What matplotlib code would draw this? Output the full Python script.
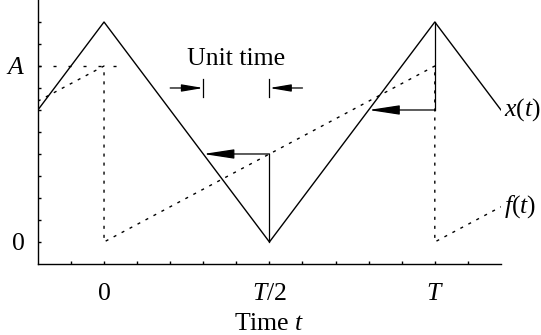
import matplotlib
matplotlib.use("Agg")
import matplotlib.pyplot as plt

plt.rcParams['font.family'] = ['Liberation Serif', 'DejaVu Serif']
plt.rcParams['mathtext.fontset'] = 'custom'
plt.rcParams['mathtext.rm'] = 'Liberation Serif'
plt.rcParams['mathtext.it'] = 'Liberation Serif:italic'
plt.rcParams['font.size'] = 18.5

# x(t): triangle wave
t_x = [-2, 0, 5, 10, 12]
x_vals = [6, 10, 0, 10, 6]
# f(t): sawtooth
t_f = [-2, 0, 0, 10, 10, 12]
f_vals = [6.4, 8, 0, 8, 0, 1.6]
# dotted level A
A = 8
t_A = [-2, 0.4]

# arrows: (start t, start y, end t, end y)
arrow1 = (5, 4, 3, 4)
arrow2 = (10, 6, 8, 6)
# vertical connectors (t, y0, y1)
vert1 = (5, 0, 4)
vert2 = (10, 6, 10)

# unit time marker
unit_t = [3, 5]
unit_y = 7

xticks = [0, 5, 10]
xticklabels = ['0', '$T$/2', '$T$']
yticks = [0, A]
yticklabels = ['0', '$A$']

fig = plt.figure(figsize=(5.41, 3.35), dpi=100)
ax = fig.add_axes([0.070, 0.212, 0.856, 0.788])

ax.plot(t_x, x_vals, color='black', lw=1.0)
ax.plot(t_f, f_vals, color='black', lw=1.0, linestyle=(0, (2.2, 4.3)))
ax.plot(t_A, [A, A], color='black', lw=1.0, linestyle=(0, (2.2, 8.6)))

for t, y0, y1 in [vert1, vert2]:
    ax.plot([t, t], [y0, y1], color='black', lw=0.9)

for (t0, y0, t1, y1) in [arrow1, arrow2]:
    ax.annotate('', xy=(t1, y1), xytext=(t0, y0),
                arrowprops=dict(arrowstyle='-|>,head_length=1.9,head_width=0.29',
                                mutation_scale=10, color='black', lw=0.9,
                                shrinkA=0, shrinkB=0))

# unit time
for t in unit_t:
    ax.plot([t, t], [unit_y - 0.4, unit_y + 0.4], color='black', lw=0.9)
ax.annotate('', xy=(unit_t[0], unit_y), xytext=(unit_t[0] - 1, unit_y),
            arrowprops=dict(arrowstyle='-|>,head_length=1.3,head_width=0.22',
                            mutation_scale=10, color='black', lw=0.9,
                            shrinkA=0, shrinkB=0))
ax.annotate('', xy=(unit_t[1], unit_y), xytext=(unit_t[1] + 1, unit_y),
            arrowprops=dict(arrowstyle='-|>,head_length=1.3,head_width=0.22',
                            mutation_scale=10, color='black', lw=0.9,
                            shrinkA=0, shrinkB=0))
ax.text(4, 8.3, 'Unit time', ha='center', va='center')

ax.text(12.1, 6, '$x(t)$', ha='left', va='center')
ax.text(12.1, 1.6, '$f(t)$', ha='left', va='center')

ax.set_xlim(-2, 12)
ax.set_ylim(-1, 11)
ax.set_xticks(xticks)
ax.set_xticklabels(xticklabels)
ax.set_xticks(range(-1, 12), minor=True)
ax.set_yticks(yticks)
ax.set_yticklabels(yticklabels)
ax.set_yticks(range(0, 11), minor=True)
ax.tick_params(which='both', direction='in', length=2.2, width=1.0)
ax.tick_params(axis='x', pad=13.5)
ax.tick_params(axis='y', pad=9)
ax.set_xlabel('Time $t$', labelpad=6)

ax.spines['top'].set_visible(False)
ax.spines['right'].set_visible(False)
for s in ['left', 'bottom']:
    ax.spines[s].set_linewidth(1.0)

fig.savefig('out.png', dpi=100)
